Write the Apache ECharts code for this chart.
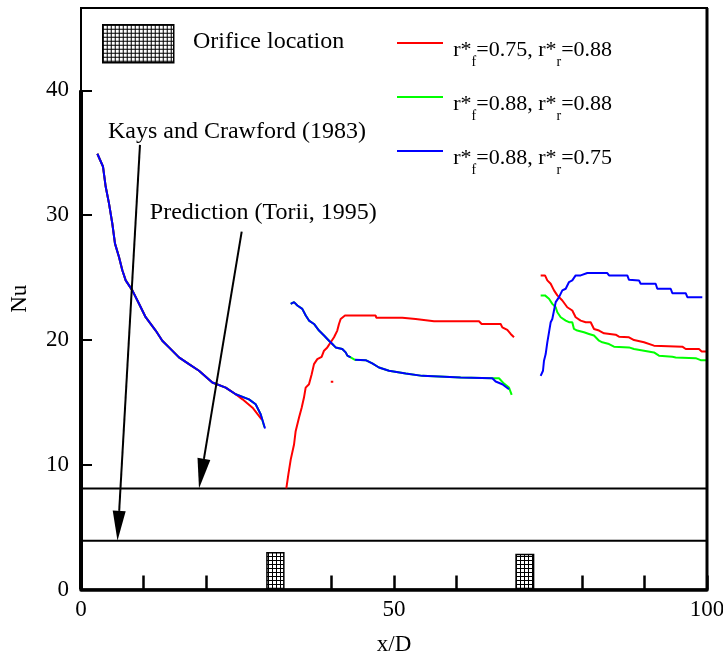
<!DOCTYPE html>
<html><head><meta charset="utf-8">
<script src="https://cdn.jsdelivr.net/npm/echarts@6/dist/echarts.min.js"></script>
<style>html,body{margin:0;padding:0;background:#fff}#c{width:723px;height:656px}</style>
</head><body><div id="c"></div>
<script>
// ---------------- data ----------------
const xLabelValues = [0, 50, 100];
const yLabelValues = [0, 10, 20, 30, 40];
const rfValues = ['0.75', '0.88', '0.88'];
const rrValues = ['0.88', '0.88', '0.75'];
const seriesColors = ['#ff0000', '#00ff00', '#0000ff'];
const refLevels = [8.1, 3.9];            // Prediction (Torii, 1995), Kays and Crawford (1983)
const orificeStart = [29.7, 69.5];
const orificeEnd = [32.4, 72.3];
const orificeHeight = [2.95, 2.8];
const annotationTexts = ['Kays and Crawford (1983)', 'Prediction (Torii, 1995)'];
const annotationAt = [[4.31, 36.7], [11.0, 30.2]];
const arrowFrom = [[9.42, 35.63], [25.67, 28.68]];
const arrowTo = [[5.83, 3.9], [18.85, 8.1]];

// red: r*f=0.75, r*r=0.88
const red1 = [[2.61,34.92],[3.51,33.9],[3.94,32.29],[4.47,30.94],[5.0,29.33],[5.43,27.72],[6.07,26.65],[6.6,25.58],[7.14,24.77],[8.2,23.97],[9.27,22.9],[10.33,21.82],[11.93,20.75],[12.99,19.94],[14.06,19.4],[15.65,18.6],[17.25,18.06],[18.85,17.53],[20.98,16.59],[23.11,16.18],[24.71,15.65],[25.8,15.24],[27.4,14.57],[28.86,13.63]];
const red2 = [[32.8,8.1],[33.12,9.2],[33.5,10.41],[34.03,11.62],[34.29,12.69],[34.82,13.77],[35.25,14.57],[35.62,15.38],[35.89,16.18],[36.42,16.45],[36.85,17.25],[37.22,18.06],[37.75,18.46],[38.44,18.65],[38.82,19.14],[39.35,19.4],[39.89,19.81],[40.42,20.21],[40.94,20.75],[41.21,21.28],[41.48,21.68],[42.17,21.96],[47.07,21.96],[47.17,21.77],[50.27,21.77],[50.53,21.64],[51.33,21.77],[53.46,21.68],[56.39,21.5],[63.58,21.5],[64.0,21.28],[67.04,21.28],[67.3,21.01],[68.1,20.8],[68.64,20.48],[69.17,20.21]];
const red2dot = [[39.9,16.64],[40.3,16.64]];
const red3 = [[73.43,25.17],[74.12,25.17],[74.49,24.77],[75.03,24.5],[75.56,23.97],[76.09,23.57],[76.89,23.16],[77.68,22.62],[78.48,22.36],[79.02,21.82],[79.82,21.55],[80.62,21.42],[81.42,21.42],[81.95,20.88],[82.75,20.75],[83.55,20.53],[85.41,20.42],[85.94,20.26],[87.54,20.21],[88.34,19.99],[89.94,19.81],[91.53,19.54],[96.06,19.46],[96.6,19.27],[98.72,19.27],[99.15,19.08],[99.95,19.08]];

// green: r*f=0.88, r*r=0.88
const green1 = [[2.61,34.92],[3.51,33.9],[3.94,32.29],[4.47,30.94],[5.0,29.33],[5.43,27.72],[6.07,26.65],[6.6,25.58],[7.14,24.77],[8.2,23.97],[9.27,22.9],[10.33,21.82],[11.93,20.75],[12.99,19.94],[14.06,19.4],[15.65,18.6],[17.25,18.06],[18.85,17.53],[20.98,16.59],[23.11,16.18],[24.71,15.65],[26.84,15.24],[27.9,14.84],[28.7,14.04],[29.3,13.0]];
const green2 = [[33.5,22.89],[34.03,23.03],[34.56,22.76],[35.35,22.49],[35.9,21.96],[36.42,21.55],[37.22,21.28],[38.02,20.75],[38.82,20.35],[39.62,19.94],[40.15,19.67],[40.68,19.4],[41.74,19.27],[42.28,19.0],[42.55,18.74],[43.08,18.6],[43.77,18.41],[45.47,18.38],[46.53,18.12],[47.6,17.79],[49.2,17.53],[51.87,17.31],[54.52,17.12],[57.19,17.07],[60.65,16.99],[65.71,16.93],[66.77,16.93],[67.57,16.5],[68.37,16.18],[68.8,15.59]];
const green3 = [[73.43,23.57],[74.12,23.57],[74.76,23.3],[75.29,22.89],[75.83,22.62],[76.09,22.22],[76.63,21.82],[77.43,21.55],[77.96,21.42],[78.48,21.42],[78.75,20.88],[79.28,20.75],[80.35,20.61],[81.15,20.48],[81.95,20.35],[82.75,19.94],[83.28,19.81],[84.35,19.67],[85.14,19.46],[87.54,19.4],[88.34,19.27],[89.94,19.14],[91.53,19.0],[92.33,18.74],[94.46,18.65],[95.0,18.6],[98.19,18.54],[98.99,18.38],[100,18.38]];

// blue: r*f=0.88, r*r=0.75
const blue1 = [[2.61,34.92],[3.51,33.9],[3.94,32.29],[4.47,30.94],[5.0,29.33],[5.43,27.72],[6.07,26.65],[6.6,25.58],[7.14,24.77],[8.2,23.97],[9.27,22.9],[10.33,21.82],[11.93,20.75],[12.99,19.94],[14.06,19.4],[15.65,18.6],[17.25,18.06],[18.85,17.53],[20.98,16.59],[23.11,16.18],[24.71,15.65],[26.84,15.24],[27.9,14.84],[28.7,14.04],[29.4,12.9]];
const blue2a = [[33.5,22.89],[34.03,23.03],[34.56,22.76],[35.35,22.49],[35.9,21.96],[36.42,21.55],[37.22,21.28],[38.02,20.75],[38.82,20.35],[39.62,19.94],[40.15,19.67],[40.68,19.4],[41.74,19.27],[42.28,19.0],[42.55,18.74],[43.08,18.6]];
const blue2b = [[43.77,18.41],[45.47,18.38],[46.53,18.12],[47.6,17.79],[49.2,17.53],[51.87,17.31],[54.52,17.12],[57.19,17.07],[60.65,16.99],[65.71,16.93],[66.24,16.67],[67.3,16.45],[68.37,16.05]];
const blue3 = [[73.43,17.12],[73.8,17.53],[73.96,18.33],[74.23,18.87],[74.49,19.81],[74.76,20.61],[75.03,21.42],[75.29,21.68],[75.56,22.36],[75.83,23.03],[76.36,23.43],[76.89,23.97],[77.43,24.1],[77.96,24.64],[78.48,24.77],[79.02,25.17],[79.82,25.17],[80.88,25.36],[84.07,25.36],[84.35,25.17],[87.27,25.17],[87.54,24.82],[89.14,24.77],[89.4,24.5],[91.8,24.5],[92.06,24.1],[94.2,24.1],[94.46,23.75],[96.6,23.75],[96.86,23.43],[99.25,23.43]];

const Y_MAX = 46.6;
// ---------------- helpers ----------------
const FONT = 'Liberation Serif';
const GAP = ['-', '-'];
function joinSegs(...segs) {
  const out = [];
  segs.forEach((s, i) => { if (i) out.push(GAP); s.forEach(p => out.push(p)); });
  return out;
}
const names = rfValues.map((f, i) => 'r*f=' + f + ', r*r=' + rrValues[i]);
const richNames = {};
names.forEach((n, i) => {
  richNames[n] = '{sp| }{n|r*}{s|f}{n|=' + rfValues[i] + ', r*}{s|r}{n|=' + rrValues[i] + '}';
});

const pc = document.createElement('canvas');
pc.width = 4; pc.height = 4;
const pctx = pc.getContext('2d');
pctx.fillStyle = '#fff'; pctx.fillRect(0, 0, 4, 4);
pctx.fillStyle = '#000'; pctx.fillRect(0, 0, 4, 1); pctx.fillRect(0, 0, 1, 4);
const hatch = { image: pc, repeat: 'repeat' };

const chart = echarts.init(document.getElementById('c'), null, { renderer: 'canvas' });

function lineSeries(name, color, data, z) {
  return {
    name, type: 'line', data, showSymbol: false, symbol: 'none', color,
    lineStyle: { color, width: 2 }, connectNulls: false, animation: false, z, silent: true
  };
}

const refData = [];
refLevels.forEach((v, i) => { if (i) refData.push(GAP); refData.push([0, v], [100, v]); });

const option = {
  animation: false,
  grid: { left: 81, right: 16, top: 8, bottom: 66.5, show: true, borderColor: '#000', borderWidth: 2, outerBoundsMode: 'none', containLabel: false },
  xAxis: {
    type: 'value', min: 0, max: 100, interval: 10,
    axisLine: { show: true, lineStyle: { color: '#000', width: 3.5 } },
    axisTick: { show: true, inside: true, length: 14, lineStyle: { color: '#000', width: 2.5 } },
    axisLabel: { formatter: v => xLabelValues.includes(v) ? String(v) : '', fontFamily: FONT, fontSize: 23, color: '#000', margin: 9 },
    splitLine: { show: false },
    name: 'x/D', nameLocation: 'middle', nameGap: 44,
    nameTextStyle: { fontFamily: FONT, fontSize: 23, color: '#000' }
  },
  yAxis: {
    type: 'value', min: 0, max: Y_MAX, interval: 10,
    axisLine: { show: true, lineStyle: { color: '#000', width: 2 } },
    axisTick: { show: true, inside: true, length: 11, lineStyle: { color: '#000', width: 2 } },
    axisLabel: { formatter: v => yLabelValues.includes(v) ? String(v) : '', fontFamily: FONT, fontSize: 23, color: '#000', margin: 12 },
    splitLine: { show: false },
    name: 'Nu', nameLocation: 'middle', nameGap: 50, nameRotate: 90,
    nameTextStyle: { fontFamily: FONT, fontSize: 23, color: '#000' }
  },
  legend: {
    data: names, left: 397, top: 39, orient: 'vertical', icon: 'rect',
    itemWidth: 46, itemHeight: 2, itemGap: 24, padding: 0, selectedMode: false,
    formatter: n => richNames[n],
    textStyle: {
      color: '#000', fontFamily: FONT, fontSize: 22, padding: [22, 0, 0, 5],
      rich: {
        sp: { fontSize: 1, lineHeight: 30, verticalAlign: 'top' },
        n: { fontFamily: FONT, fontSize: 22, lineHeight: 22, verticalAlign: 'top', color: '#000' },
        s: { fontFamily: FONT, fontSize: 14, lineHeight: 8, verticalAlign: 'bottom', color: '#000' }
      }
    }
  },
  graphic: [
    { type: 'rect', left: 102, top: 24, shape: { width: 71, height: 38 }, style: { fill: hatch, stroke: '#000', lineWidth: 1.5 }, z: 100 },
    { type: 'text', left: 193, top: 30, style: { text: 'Orifice location', font: '24px "Liberation Serif"', fill: '#000' }, z: 100 }
  ],
  series: [
    { name: '_ref', type: 'line', data: refData, showSymbol: false, symbol: 'none', lineStyle: { color: '#000', width: 2 }, color: '#000', silent: true, z: 3 },
    { name: '_leftAxis', type: 'line', data: [[0, 0], [0, 40]], showSymbol: false, symbol: 'none', lineStyle: { color: '#000', width: 4 }, color: '#000', clip: false, silent: true, z: 6 },
    { name: '_rightFrame', type: 'line', data: [[100, 0], [100, Y_MAX]], showSymbol: false, symbol: 'none', lineStyle: { color: '#000', width: 3 }, color: '#000', clip: false, silent: true, z: 6 },
    lineSeries(names[1], seriesColors[1], joinSegs(green1, green2, green3), 3),
    lineSeries(names[0], seriesColors[0], joinSegs(red1, red2, red2dot, red3), 4),
    lineSeries(names[2], seriesColors[2], joinSegs(blue1, blue2a, blue2b, blue3), 5),
    {
      name: '_orifice', type: 'custom', clip: false, silent: true, z: 7,
      data: orificeStart.map((s, i) => [s, orificeEnd[i], orificeHeight[i]]),
      encode: { x: [0, 1], y: 2 },
      renderItem: (params, api) => {
        const a = api.coord([api.value(0), api.value(2)]);
        const b = api.coord([api.value(1), 0]);
        return { type: 'rect', shape: { x: a[0], y: a[1], width: b[0] - a[0], height: b[1] - a[1] - 1 },
          style: { fill: hatch, stroke: '#000', lineWidth: 1.5 } };
      }
    },
    {
      name: '_arrows', type: 'custom', clip: false, silent: true, z: 8,
      data: arrowFrom.map((f, i) => [f[0], f[1], arrowTo[i][0], arrowTo[i][1]]),
      encode: { x: [0, 2], y: [1, 3] },
      renderItem: (params, api) => {
        const p1 = api.coord([api.value(0), api.value(1)]);
        const p2 = api.coord([api.value(2), api.value(3)]);
        const dx = p2[0] - p1[0], dy = p2[1] - p1[1];
        const len = Math.hypot(dx, dy), ux = dx / len, uy = dy / len;
        const L = 30, W = 6.5;
        const bx = p2[0] - ux * L, by = p2[1] - uy * L;
        return { type: 'group', children: [
          { type: 'line', shape: { x1: p1[0], y1: p1[1], x2: bx, y2: by }, style: { stroke: '#000', lineWidth: 2 } },
          { type: 'polygon', shape: { points: [[p2[0], p2[1]], [bx - uy * W, by + ux * W], [bx + uy * W, by - ux * W]] }, style: { fill: '#000' } }
        ] };
      }
    },
    {
      name: '_notes', type: 'custom', clip: false, silent: true, z: 9,
      data: annotationAt.map(p => [p[0], p[1]]),
      encode: { x: 0, y: 1 },
      renderItem: (params, api) => {
        const p = api.coord([api.value(0), api.value(1)]);
        return { type: 'text', x: p[0], y: p[1],
          style: { text: annotationTexts[params.dataIndex], fontFamily: FONT, fontSize: 24, fill: '#000', align: 'left', verticalAlign: 'middle' } };
      }
    }
  ]
};
chart.setOption(option);
</script></body></html>
